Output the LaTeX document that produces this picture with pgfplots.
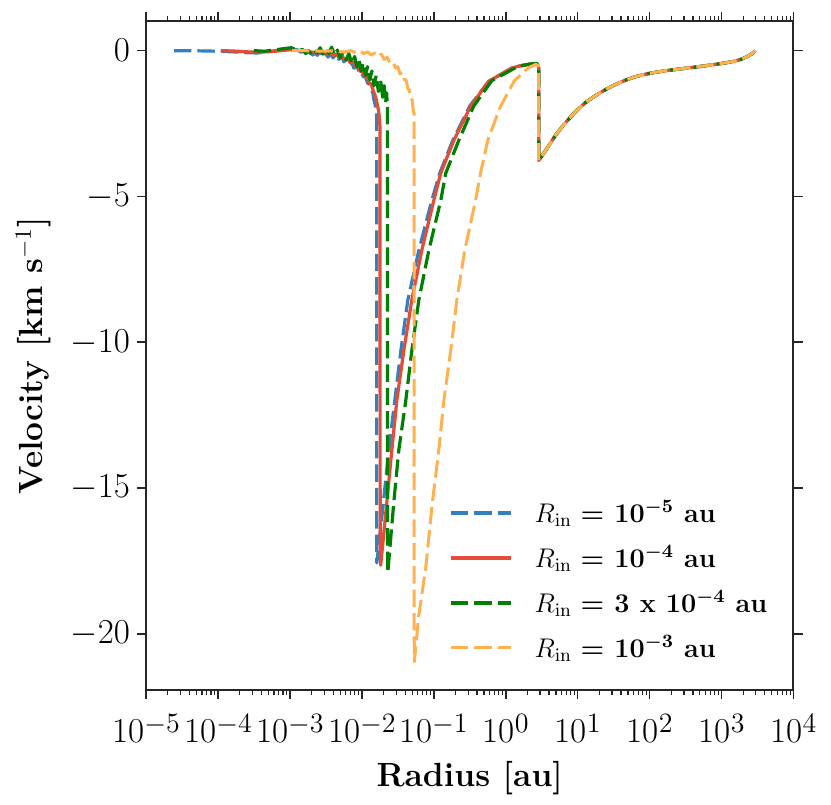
\RequirePackage{fix-cm}
\documentclass[border=0pt]{standalone}
\usepackage{amsmath}
\usepackage{pgfplots}
\usepackage{pgfplotstable}
\pgfplotsset{compat=1.18}
\definecolor{cblue}{RGB}{52,128,189}
\definecolor{cred}{RGB}{228,76,56}
\definecolor{cgreen}{RGB}{0,128,0}
\definecolor{corange}{RGB}{255,177,78}
\definecolor{axisgray}{RGB}{38,38,38}
\newcommand{\tl}[1]{10\raisebox{5.25pt}{\fontsize{14}{16}\selectfont$#1$}}

\pgfplotstableread{
lx v
-4.61 0.0
-4.4 0.0
-4.2 -0.01
-4.0 -0.02
-3.8 -0.04
-3.6 -0.07
-3.45 -0.08
-3.3 -0.04
-3.15 0.02
-3.0 0.07
-2.9 0.03
-2.85 -0.05
-2.8 -0.02
-2.75 -0.12
-2.72 -0.04
-2.68 -0.15
-2.65 -0.06
-2.62 -0.16
-2.58 -0.05
-2.55 -0.18
-2.51 -0.08
-2.47 -0.22
-2.43 -0.10
-2.40 -0.25
-2.36 -0.12
-2.32 -0.30
-2.28 -0.18
-2.25 -0.38
-2.21 -0.30
-2.18 -0.50
-2.14 -0.42
-2.11 -0.60
-2.07 -0.52
-2.04 -0.72
-2.01 -0.68
-1.98 -0.90
-1.95 -0.88
-1.92 -1.12
-1.90 -1.10
-1.87 -1.38
-1.85 -1.42
-1.83 -1.70
-1.815 -1.85
-1.80 -2.10
-1.793 -2.30
-1.792 -17.57
-1.722 -16.0
-1.625 -13.7
-1.542 -12.0
-1.458 -10.3
-1.361 -8.56
-1.208 -6.85
-1.028 -5.14
-0.917 -4.2
-0.736 -3.08
-0.50 -1.9
-0.236 -1.05
0.083 -0.6
0.20 -0.52
0.319 -0.47
0.40 -0.45
0.445 -0.48
0.458 -0.56
0.458 -3.77
0.50 -3.62
0.55 -3.44
0.60 -3.25
0.70 -2.88
0.80 -2.56
0.90 -2.28
1.00 -2.02
1.10 -1.80
1.20 -1.62
1.30 -1.46
1.40 -1.32
1.50 -1.19
1.60 -1.08
1.70 -0.98
1.80 -0.895
1.90 -0.83
2.00 -0.78
2.10 -0.735
2.25 -0.68
2.40 -0.635
2.60 -0.575
2.80 -0.51
3.00 -0.44
3.10 -0.40
3.20 -0.35
3.28 -0.29
3.35 -0.21
3.42 -0.11
3.472 0.0
}\blueData

\pgfplotstableread{
lx v
-3.96 0.0
-3.8 -0.01
-3.6 -0.04
-3.4 -0.05
-3.2 -0.02
-3.0 0.03
-2.85 0.0
-2.7 -0.05
-2.6 -0.08
-2.55 -0.04
-2.50 -0.12
-2.45 -0.08
-2.40 -0.16
-2.36 -0.12
-2.32 -0.22
-2.28 -0.17
-2.24 -0.30
-2.20 -0.26
-2.16 -0.42
-2.12 -0.38
-2.08 -0.56
-2.05 -0.55
-2.02 -0.72
-1.99 -0.70
-1.96 -0.88
-1.93 -0.90
-1.90 -1.10
-1.87 -1.15
-1.84 -1.38
-1.82 -1.50
-1.80 -1.68
-1.78 -1.90
-1.765 -2.10
-1.755 -2.35
-1.748 -2.60
-1.745 -17.0
-1.738 -17.65
-1.653 -15.5
-1.583 -13.7
-1.514 -12.0
-1.417 -10.3
-1.306 -8.56
-1.167 -6.85
-1.0 -5.14
-0.903 -4.2
-0.722 -3.08
-0.486 -1.9
-0.236 -1.05
0.083 -0.6
0.20 -0.52
0.319 -0.47
0.40 -0.45
0.445 -0.48
0.458 -0.56
0.458 -3.77
0.50 -3.62
0.55 -3.44
0.60 -3.25
0.70 -2.88
0.80 -2.56
0.90 -2.28
1.00 -2.02
1.10 -1.80
1.20 -1.62
1.30 -1.46
1.40 -1.32
1.50 -1.19
1.60 -1.08
1.70 -0.98
1.80 -0.895
1.90 -0.83
2.00 -0.78
2.10 -0.735
2.25 -0.68
2.40 -0.635
2.60 -0.575
2.80 -0.51
3.00 -0.44
3.10 -0.40
3.20 -0.35
3.28 -0.29
3.35 -0.21
3.42 -0.11
3.472 0.0
}\redData

\pgfplotstableread{
lx v
-3.50 0.0
-3.35 -0.02
-3.20 0.03
-3.05 0.08
-2.98 0.10
-2.92 0.04
-2.87 -0.02
-2.83 0.05
-2.78 -0.10
-2.74 0.00
-2.70 -0.13
-2.66 0.02
-2.62 -0.08
-2.58 0.10
-2.54 -0.12
-2.50 0.05
-2.46 -0.10
-2.42 0.12
-2.38 -0.15
-2.34 0.02
-2.30 -0.25
-2.26 -0.05
-2.22 -0.32
-2.18 -0.10
-2.14 -0.45
-2.10 -0.20
-2.07 -0.55
-2.04 -0.30
-2.01 -0.70
-1.98 -0.42
-1.95 -0.85
-1.92 -0.55
-1.89 -1.00
-1.86 -0.70
-1.83 -1.20
-1.80 -0.85
-1.77 -1.40
-1.74 -1.00
-1.71 -1.60
-1.69 -1.20
-1.67 -1.80
-1.655 -1.45
-1.645 -1.95
-1.642 -17.0
-1.639 -17.9
-1.556 -15.5
-1.486 -13.7
-1.389 -12.0
-1.306 -10.3
-1.208 -8.56
-1.069 -6.85
-0.903 -5.14
-0.833 -4.2
-0.653 -3.08
-0.444 -1.9
-0.194 -1.03
0.139 -0.58
0.25 -0.5
0.361 -0.45
0.43 -0.44
0.458 -0.5
0.458 -3.77
0.50 -3.62
0.55 -3.44
0.60 -3.25
0.70 -2.88
0.80 -2.56
0.90 -2.28
1.00 -2.02
1.10 -1.80
1.20 -1.62
1.30 -1.46
1.40 -1.32
1.50 -1.19
1.60 -1.08
1.70 -0.98
1.80 -0.895
1.90 -0.83
2.00 -0.78
2.10 -0.735
2.25 -0.68
2.40 -0.635
2.60 -0.575
2.80 -0.51
3.00 -0.44
3.10 -0.40
3.20 -0.35
3.28 -0.29
3.35 -0.21
3.42 -0.11
3.472 0.0
}\greenData

\pgfplotstableread{
lx v
-2.97 0.0
-2.80 0.0
-2.60 -0.02
-2.40 -0.01
-2.25 -0.05
-2.15 0.00
-2.08 -0.08
-2.02 -0.02
-1.97 -0.10
-1.92 -0.04
-1.87 -0.15
-1.82 -0.08
-1.77 -0.20
-1.73 -0.12
-1.69 -0.30
-1.65 -0.22
-1.61 -0.42
-1.57 -0.38
-1.53 -0.60
-1.50 -0.55
-1.47 -0.80
-1.44 -0.75
-1.41 -1.00
-1.385 -1.00
-1.36 -1.30
-1.34 -1.35
-1.32 -1.62
-1.30 -1.70
-1.29 -1.95
-1.28 -2.10
-1.274 -2.15
-1.272 -20.0
-1.270 -20.96
-1.21 -19.4
-1.11 -17.7
-1.02 -15.5
-0.93 -13.7
-0.86 -12.0
-0.76 -10.2
-0.68 -8.56
-0.57 -6.85
-0.42 -5.14
-0.35 -4.2
-0.25 -3.08
-0.08 -1.95
0.12 -1.03
0.32 -0.58
0.417 -0.47
0.458 -0.52
0.458 -3.77
0.50 -3.62
0.55 -3.44
0.60 -3.25
0.70 -2.88
0.80 -2.56
0.90 -2.28
1.00 -2.02
1.10 -1.80
1.20 -1.62
1.30 -1.46
1.40 -1.32
1.50 -1.19
1.60 -1.08
1.70 -0.98
1.80 -0.895
1.90 -0.83
2.00 -0.78
2.10 -0.735
2.25 -0.68
2.40 -0.635
2.60 -0.575
2.80 -0.51
3.00 -0.44
3.10 -0.40
3.20 -0.35
3.28 -0.29
3.35 -0.21
3.42 -0.11
3.472 0.0
}\orangeData

\begin{document}
\begin{tikzpicture}
\begin{axis}[
  scale only axis,
  width=323.75pt, height=334.25pt,
  xmin=-5, xmax=4, ymin=-21.93, ymax=1.0,
  xtick={-5,-4,-3,-2,-1,0,1,2,3,4},
  xticklabels={\tl{-5},\tl{-4},\tl{-3},\tl{-2},\tl{-1},\tl{0},\tl{1},\tl{2},\tl{3},\tl{4}},
  minor xtick={-4.69897,-4.52288,-4.39794,-4.30103,-4.22185,-4.15490,-4.09691,-4.04576,
    -3.69897,-3.52288,-3.39794,-3.30103,-3.22185,-3.15490,-3.09691,-3.04576,
    -2.69897,-2.52288,-2.39794,-2.30103,-2.22185,-2.15490,-2.09691,-2.04576,
    -1.69897,-1.52288,-1.39794,-1.30103,-1.22185,-1.15490,-1.09691,-1.04576,
    -0.69897,-0.52288,-0.39794,-0.30103,-0.22185,-0.15490,-0.09691,-0.04576,
    0.30103,0.47712,0.60206,0.69897,0.77815,0.84510,0.90309,0.95424,
    1.30103,1.47712,1.60206,1.69897,1.77815,1.84510,1.90309,1.95424,
    2.30103,2.47712,2.60206,2.69897,2.77815,2.84510,2.90309,2.95424,
    3.30103,3.47712,3.60206,3.69897,3.77815,3.84510,3.90309,3.95424},
  ytick={-20,-15,-10,-5,0},
  xtick pos=both, ytick pos=both,
  xticklabel pos=lower, yticklabel pos=left,
  tick align=outside,
  major tick length=4.5pt, minor tick length=2.5pt,
  major tick style={color=axisgray, line width=0.8pt},
  minor tick style={color=axisgray, line width=0.6pt},
  axis line style={color=axisgray, line width=1pt},
  tick label style={font=\fontsize{17.5}{20}\selectfont},
  xticklabel style={inner sep=0pt, yshift=-7.5pt},
  label style={font=\fontsize{16.75}{20}\selectfont},
  xlabel={\bfseries Radius [au]},
  ylabel={\bfseries Velocity [km s$^{-1}$]},
  xlabel style={at={([yshift=-48pt]rel axis cs:0.5,0)}, anchor=base},
  ylabel style={at={([xshift=-51.5pt]rel axis cs:0,0.5)}, anchor=base},
  legend style={draw=none, fill=none, at={(rel axis cs:0.468,0.29)}, anchor=north west,
    font=\fontsize{13.5}{16}\selectfont, row sep=6pt, inner sep=0pt,
    /tikz/every odd column/.append style={column sep=9pt}},
  legend cell align=left,
  legend image code/.code={\draw[#1] (0pt,0pt) -- (30pt,0pt);},
  every axis plot/.append style={line join=round},
]
\addplot[cblue, line width=1.6pt, dash pattern=on 8.7pt off 3pt] table[x=lx,y=v]{\blueData};
\addlegendentry{$R_{\mathrm{in}}$ {\bfseries\boldmath = $10^{-5}$ au}}
\addplot[cred, line width=1.6pt] table[x=lx,y=v]{\redData};
\addlegendentry{$R_{\mathrm{in}}$ {\bfseries\boldmath = $10^{-4}$ au}}
\addplot[cgreen, line width=1.6pt, dash pattern=on 8.7pt off 3pt] table[x=lx,y=v]{\greenData};
\addlegendentry{$R_{\mathrm{in}}$ {\bfseries\boldmath = 3 x $10^{-4}$ au}}
\addplot[corange, line width=1.5pt, dash pattern=on 8.7pt off 3pt] table[x=lx,y=v]{\orangeData};
\addlegendentry{$R_{\mathrm{in}}$ {\bfseries\boldmath = $10^{-3}$ au}}
\coordinate (sw) at (rel axis cs:0,0);
\coordinate (ne) at (rel axis cs:1,1);
\end{axis}
\pgfresetboundingbox
\path[use as bounding box] ([shift={(-73pt,-57pt)}]sw) rectangle ([shift={(18.75pt,10.75pt)}]ne);
\end{tikzpicture}
\end{document}
